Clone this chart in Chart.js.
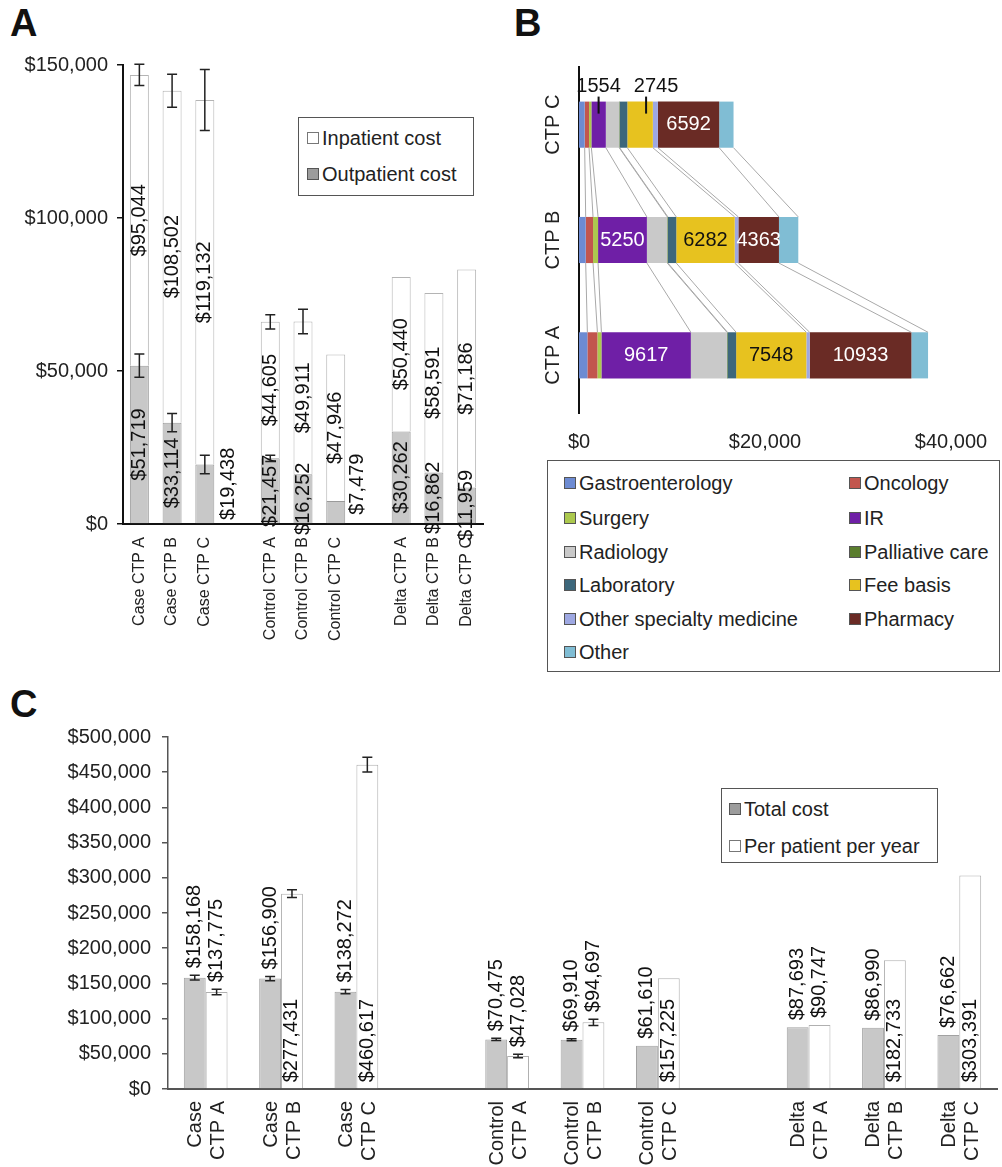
<!DOCTYPE html>
<html>
<head>
<meta charset="utf-8">
<script src="https://cdn.jsdelivr.net/npm/chart.js@4.4.1/dist/chart.umd.min.js"></script>
<style>
  body { margin: 0; background: #fff; font-family: "Liberation Sans", Arial, sans-serif; color: #222; }
  #wrap { position: relative; width: 1002px; height: 1167px; overflow: hidden; background: #fff; }
  .box { position: absolute; }
  .letter { position: absolute; font-weight: bold; font-size: 38px; line-height: 1; color: #111; }
  .legend { position: absolute; border: 1.5px solid #555; background: #fff; box-sizing: border-box; font-size: 20px; }
  .item { position: absolute; display: flex; align-items: center; white-space: nowrap; height: 24px; }
  .sw { display: inline-block; width: 12px; height: 12px; border: 1px solid #555; box-sizing: border-box; margin-right: 3px; }
</style>
</head>
<body>
<div id="wrap">
  <div class="letter" style="left:10px;top:4px">A</div>
  <div class="letter" style="left:514px;top:4px">B</div>
  <div class="letter" style="left:10px;top:685px">C</div>

  <div class="box" style="left:0;top:40px;width:500px;height:610px"><canvas id="chartA" width="500" height="610"></canvas></div>
  <div class="box" style="left:540px;top:40px;width:462px;height:415px"><canvas id="chartB" width="462" height="415"></canvas></div>
  <div class="box" style="left:0;top:700px;width:1002px;height:467px"><canvas id="chartC" width="1002" height="467"></canvas></div>

  <div class="legend" id="legendA" style="left:298px;top:117px;width:176px;height:79px"></div>
  <div class="legend" id="legendB" style="left:547px;top:460px;width:453px;height:212px"></div>
  <div class="legend" id="legendC" style="left:721px;top:788px;width:217px;height:75px"></div>
</div>

<script>
// ---------- Panel A: inpatient / outpatient cost ----------
const aLabels = ['Case CTP A', 'Case CTP B', 'Case CTP C', '', 'Control CTP A', 'Control CTP B', 'Control CTP C', '', 'Delta CTP A', 'Delta CTP B', 'Delta CTP C'];
const aOutpatient = [51719, 33114, 19438, null, 21457, 16252, 7479, null, 30262, 16862, 11959];
const aInpatient = [95044, 108502, 119132, null, 44605, 49911, 47946, null, 50440, 58591, 71186];
const aOutErr = [3800, 3000, 3000, null, 1000, 0, 0, null, 0, 0, 0];
const aTotErr = [3500, 5400, 10000, null, 2300, 4000, 0, null, 0, 0, 0];
const aTicks = [0, 50000, 100000, 150000];

// ---------- Panel B: cost by service, per CTP class ----------
const bBars = ['CTP C', 'CTP B', 'CTP A'];
const bSegments = ['Gastroenterology', 'Oncology', 'Surgery', 'IR', 'Radiology', 'Palliative care', 'Laboratory', 'Fee basis', 'Other specialty medicine', 'Pharmacy', 'Other'];
const bCtpC = [610, 470, 250, 1554, 1436, 50, 826, 2745, 540, 6592, 1544];
const bCtpB = [720, 790, 540, 5250, 2190, 70, 900, 6282, 395, 4363, 2080];
const bCtpA = [900, 1080, 430, 9617, 3880, 60, 930, 7548, 360, 10933, 1795];
const bTicks = [0, 20000, 40000];

// ---------- Panel C: total cost and per patient per year ----------
const cLabels = [['Case', 'CTP A'], ['Case', 'CTP B'], ['Case', 'CTP C'], '', ['Control', 'CTP A'], ['Control', 'CTP B'], ['Control', 'CTP C'], '', ['Delta', 'CTP A'], ['Delta', 'CTP B'], ['Delta', 'CTP C']];
const cTotal = [158168, 156900, 138272, null, 70475, 69910, 61610, null, 87693, 86990, 76662];
const cPerPatient = [137775, 277431, 460617, null, 47028, 94697, 157225, null, 90747, 182733, 303391];
const cTotalErr = [3500, 3000, 3000, null, 1500, 1500, 0, null, 0, 0, 0];
const cPerErr = [4000, 5500, 10500, null, 2500, 4500, 0, null, 0, 0, 0];

// styles
const FONT = '"Liberation Sans", Arial, sans-serif';
const greyFill = '#c8c8c8';
const bColors = ['#6d8bd2', '#c2564e', '#acc94e', '#6f1fa6', '#c9c9c9', '#5b7e2e', '#3d677b', '#e7c21f', '#9ea8e2', '#6a2b25', '#80bdd4'];
const bTextColors = ['#fff', '#fff', '#fff', '#fff', '#fff', '#fff', '#fff', '#111', '#fff', '#fff', '#fff'];
const aLabelShift = { 0: { 2: [24, -10], 6: [22, -28] } };   // outpatient labels moved beside thin segments
const cPerLabelPos = ['top', 'base', 'base', null, 'top', 'top', 'base', null, 'top', 'base', 'base'];

Chart.defaults.font.family = FONT;
Chart.defaults.color = '#222';
Chart.defaults.animation = false;

function money(v) {
  return '$' + String(v).replace(/\B(?=(\d{3})+(?!\d))/g, ',');
}

// fixed axis sizes so the plot sits where the figure has it
function fixWidth(w) {
  return function (scale) { scale.width = w; scale.paddingTop = 0; scale.paddingBottom = 0; };
}
function fixHeight(h) {
  return function (scale) { scale.height = h; scale.paddingLeft = 0; scale.paddingRight = 0; };
}

function drawErr(ctx, x, y1, y2, cap) {
  ctx.beginPath();
  ctx.moveTo(x, y1); ctx.lineTo(x, y2);
  ctx.moveTo(x - cap, y1); ctx.lineTo(x + cap, y1);
  ctx.moveTo(x - cap, y2); ctx.lineTo(x + cap, y2);
  ctx.stroke();
}

function rotText(ctx, text, x, y, align) {
  ctx.save();
  ctx.translate(x, y);
  ctx.rotate(-Math.PI / 2);
  ctx.textAlign = align;
  ctx.fillText(text, 0, 0);
  ctx.restore();
}

// ---------- chart A ----------
const aExtras = {
  id: 'aExtras',
  afterDatasetsDraw(chart) {
    const ctx = chart.ctx;
    const y = chart.scales.y;
    ctx.save();
    ctx.font = '20px ' + FONT;
    ctx.fillStyle = '#111';
    ctx.textBaseline = 'middle';
    chart.data.datasets.forEach((ds, di) => {
      chart.getDatasetMeta(di).data.forEach((bar, i) => {
        const v = ds.data[i];
        if (v == null) return;
        const sh = (aLabelShift[di] && aLabelShift[di][i]) || [0, 0];
        rotText(ctx, money(v), bar.x + sh[0], (bar.y + bar.base) / 2 + sh[1], 'center');
      });
    });
    // error bars
    ctx.strokeStyle = '#222';
    ctx.lineWidth = 1.5;
    const metaOut = chart.getDatasetMeta(0).data;
    aOutpatient.forEach((v, i) => {
      if (v == null) return;
      const x = metaOut[i].x;
      if (aOutErr[i]) drawErr(ctx, x, y.getPixelForValue(v + aOutErr[i]), y.getPixelForValue(v - aOutErr[i]), 5);
      const tot = v + aInpatient[i];
      if (aTotErr[i]) drawErr(ctx, x, y.getPixelForValue(tot + aTotErr[i]), y.getPixelForValue(tot - aTotErr[i]), 5);
    });
    ctx.restore();
  }
};

new Chart(document.getElementById('chartA'), {
  type: 'bar',
  data: {
    labels: aLabels,
    datasets: [
      { label: 'Outpatient cost', data: aOutpatient, backgroundColor: greyFill, borderColor: '#9a9a9a', borderWidth: 1 },
      { label: 'Inpatient cost', data: aInpatient, backgroundColor: '#fff', borderColor: '#b4b4b4', borderWidth: 1 }
    ]
  },
  options: {
    responsive: false,
    devicePixelRatio: 1,
    layout: { padding: { top: 25, right: 17, left: 0, bottom: 0 } },
    plugins: { legend: { display: false }, tooltip: { enabled: false } },
    datasets: { bar: { barPercentage: 0.58, categoryPercentage: 1 } },
    scales: {
      x: {
        stacked: true,
        grid: { display: false, drawTicks: false },
        border: { display: true, color: '#111', width: 2 },
        ticks: { font: { size: 16 }, minRotation: 90, maxRotation: 90, autoSkip: false, padding: 13, color: '#222' },
        afterFit: fixHeight(126)
      },
      y: {
        stacked: true,
        min: 0, max: 150000,
        afterBuildTicks(scale) { scale.ticks = aTicks.map(v => ({ value: v })); },
        grid: { drawOnChartArea: false, drawTicks: true, tickLength: 6, color: '#111', lineWidth: 1.5 },
        border: { display: true, color: '#111', width: 2 },
        ticks: { font: { size: 20 }, padding: 9, color: '#222', callback: v => money(v) },
        afterFit: fixWidth(123)
      }
    }
  },
  plugins: [aExtras]
});

// ---------- chart B ----------
const bRows = [bCtpC, bCtpB, bCtpA];
const bOutside = [{ bar: 0, seg: 3, dx: 0, lx: 0 }, { bar: 0, seg: 7, dx: 16, lx: 6 }];

const bExtras = {
  id: 'bExtras',
  afterDatasetsDraw(chart) {
    const ctx = chart.ctx;
    const metas = chart.data.datasets.map((d, di) => chart.getDatasetMeta(di).data);
    ctx.save();
    // connector lines between segment boundaries of neighbouring bars
    ctx.strokeStyle = '#a9a9a9';
    ctx.lineWidth = 1;
    for (let j = 0; j < bBars.length - 1; j++) {
      metas.forEach(m => {
        const a = m[j], b = m[j + 1];
        ctx.beginPath();
        ctx.moveTo(a.x, a.y + a.height / 2);
        ctx.lineTo(b.x, b.y - b.height / 2);
        ctx.stroke();
      });
    }
    // values inside the wide segments
    ctx.font = '20px ' + FONT;
    ctx.textAlign = 'center';
    ctx.textBaseline = 'middle';
    metas.forEach((m, di) => {
      m.forEach((el, j) => {
        if (bRows[j][di] > 4000) {
          ctx.fillStyle = bTextColors[di];
          ctx.fillText(String(bRows[j][di]), (el.x + el.base) / 2, el.y);
        }
      });
    });
    // small values written above CTP C with leader lines
    ctx.fillStyle = '#111';
    ctx.strokeStyle = '#111';
    ctx.lineWidth = 2;
    bOutside.forEach(o => {
      const el = metas[o.seg][o.bar];
      const cx = (el.x + el.base) / 2;
      const top = el.y - el.height / 2;
      ctx.beginPath();
      ctx.moveTo(cx + o.lx, top - 5);
      ctx.lineTo(cx + o.lx, top + 12);
      ctx.stroke();
      ctx.fillText(String(bRows[o.bar][o.seg]), cx + o.dx, top - 15);
    });
    // category labels, rotated
    const ys = chart.scales.y;
    ctx.font = '20px ' + FONT;
    ctx.fillStyle = '#222';
    bBars.forEach((name, j) => rotText(ctx, name, 13, ys.getPixelForTick(j), 'center'));
    ctx.restore();
  }
};

new Chart(document.getElementById('chartB'), {
  type: 'bar',
  data: {
    labels: bBars,
    datasets: bSegments.map((name, di) => ({
      label: name,
      data: bRows.map(r => r[di]),
      backgroundColor: bColors[di],
      borderWidth: 0
    }))
  },
  options: {
    indexAxis: 'y',
    responsive: false,
    devicePixelRatio: 1,
    layout: { padding: { top: 27, right: 51, left: 0, bottom: 0 } },
    plugins: { legend: { display: false }, tooltip: { enabled: false } },
    datasets: { bar: { barPercentage: 0.4, categoryPercentage: 1 } },
    scales: {
      x: {
        stacked: true,
        min: 0, max: 40000,
        afterBuildTicks(scale) { scale.ticks = bTicks.map(v => ({ value: v })); },
        grid: { display: false, drawTicks: false },
        border: { display: false },
        ticks: { font: { size: 20 }, padding: 17, color: '#222', callback: v => money(v) },
        afterFit: fixHeight(42)
      },
      y: {
        stacked: true,
        grid: { display: false, drawTicks: false },
        border: { display: true, color: '#111', width: 2 },
        ticks: { display: false },
        afterFit: fixWidth(39)
      }
    }
  },
  plugins: [bExtras]
});

// ---------- chart C ----------
const cExtras = {
  id: 'cExtras',
  afterDatasetsDraw(chart) {
    const ctx = chart.ctx;
    const y = chart.scales.y;
    const errs = [cTotalErr, cPerErr];
    ctx.save();
    // error bars
    ctx.strokeStyle = '#222';
    ctx.lineWidth = 1.5;
    chart.data.datasets.forEach((ds, di) => {
      chart.getDatasetMeta(di).data.forEach((bar, i) => {
        const v = ds.data[i], e = errs[di][i];
        if (v == null || !e) return;
        drawErr(ctx, bar.x, y.getPixelForValue(v + e), y.getPixelForValue(v - e), 5);
      });
    });
    // value labels
    ctx.font = '20px ' + FONT;
    ctx.fillStyle = '#111';
    ctx.textBaseline = 'middle';
    chart.data.datasets.forEach((ds, di) => {
      chart.getDatasetMeta(di).data.forEach((bar, i) => {
        const v = ds.data[i];
        if (v == null) return;
        const pos = di === 0 ? 'top' : cPerLabelPos[i];
        if (pos === 'top') {
          const yTop = y.getPixelForValue(v + (errs[di][i] || 0));
          rotText(ctx, money(v), bar.x, yTop - 7, 'left');
        } else {
          rotText(ctx, money(v), bar.x, bar.base - 6, 'left');
        }
      });
    });
    ctx.restore();
  }
};

new Chart(document.getElementById('chartC'), {
  type: 'bar',
  data: {
    labels: cLabels,
    datasets: [
      { label: 'Total cost', data: cTotal, backgroundColor: greyFill, borderColor: '#a2a2a2', borderWidth: 1 },
      { label: 'Per patient per year', data: cPerPatient, backgroundColor: '#fff', borderColor: '#b0b0b0', borderWidth: 1 }
    ]
  },
  options: {
    responsive: false,
    devicePixelRatio: 1,
    layout: { padding: { top: 37, right: 5, left: 0, bottom: 0 } },
    plugins: { legend: { display: false }, tooltip: { enabled: false } },
    datasets: { bar: { barPercentage: 1, categoryPercentage: 0.58 } },
    scales: {
      x: {
        grid: { display: false, drawTicks: false },
        border: { display: true, color: '#555', width: 2 },
        ticks: { font: { size: 20, lineHeight: 1.15 }, minRotation: 90, maxRotation: 90, autoSkip: false, padding: 12, labelOffset: -10, color: '#222' },
        afterFit: fixHeight(78)
      },
      y: {
        min: 0, max: 500000,
        ticks: { stepSize: 50000, font: { size: 20 }, padding: 11, color: '#222', callback: v => money(v) },
        grid: { drawOnChartArea: false, drawTicks: true, tickLength: 6, color: '#555', lineWidth: 1.5 },
        border: { display: true, color: '#555', width: 1.5 },
        afterFit: fixWidth(168)
      }
    }
  },
  plugins: [cExtras]
});

// ---------- HTML legends ----------
function addItem(box, left, midY, text, fill, border) {
  const it = document.createElement('div');
  it.className = 'item';
  it.style.left = left + 'px';
  it.style.top = (midY - 12) + 'px';
  const sw = document.createElement('span');
  sw.className = 'sw';
  sw.style.background = fill;
  sw.style.borderColor = border;
  it.appendChild(sw);
  it.appendChild(document.createTextNode(text));
  box.appendChild(it);
}

const legA = document.getElementById('legendA');
addItem(legA, 8, 20, 'Inpatient cost', '#fff', '#777');
addItem(legA, 8, 56, 'Outpatient cost', '#9c9c9c', '#555');

const legB = document.getElementById('legendB');
const bRowMid = [22, 57, 91, 124, 158, 191];
bSegments.forEach((name, di) => {
  addItem(legB, di % 2 === 0 ? 16 : 301, bRowMid[Math.floor(di / 2)], name, bColors[di], '#555');
});

const legC = document.getElementById('legendC');
addItem(legC, 7, 20, 'Total cost', '#9c9c9c', '#555');
addItem(legC, 7, 57, 'Per patient per year', '#fff', '#777');
</script>
</body>
</html>
